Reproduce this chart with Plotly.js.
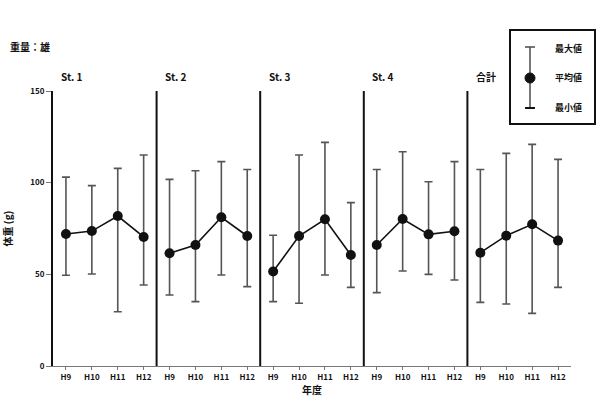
<!DOCTYPE html>
<html>
<head>
<meta charset="utf-8">
<script src="https://cdn.plot.ly/plotly-3.0.1.min.js"></script>
<style>html,body{margin:0;padding:0;background:#fff;}#chart{width:602px;height:406px;}</style>
</head>
<body>
<div id="chart"></div>
<script>
// Data
const groups = ["St. 1", "St. 2", "St. 3", "St. 4", "合計"];
const years = ["H9", "H10", "H11", "H12"];
const meanVals = [72, 73.6, 81.8, 70.4,  61.5, 66, 81.1, 70.9,  51.5, 70.9, 80, 60.5,  66, 80.2, 71.8, 73.5,  61.8, 71.1, 77.3, 68.4];
const maxVals  = [103, 98.4, 107.8, 115.1,  101.8, 106.5, 111.5, 107.2,  71.3, 115.1, 122, 89.1,  107.2, 116.9, 100.5, 111.5,  107.2, 116, 120.9, 112.7];
const minVals  = [49.5, 50.2, 29.6, 44.2,  38.7, 35.1, 49.6, 43.3,  35.1, 34.2, 49.6, 42.9,  40, 51.8, 50, 46.9,  34.7, 33.8, 28.7, 42.9];
const yTicks = [0, 50, 100, 150];
const legendLabels = ["最大値", "平均値", "最小値"];
const topLabel = "重量：雄";
const yTitle = "体重 (g)";
const xTitle = "年度";

const F = "'Noto Sans CJK JP', 'Noto Sans', sans-serif";
const W = 602, H = 406;
const M = {l: 53, r: 31, t: 91, b: 40};
const pw = W - M.l - M.r, ph = H - M.t - M.b;
const px = x => (x - M.l) / pw;
const py = y => (H - M.b - y) / ph;

const traces = [];
const tickvals = [], ticktext = [];
groups.forEach((g, gi) => {
  const xs = [], ys = [], up = [], dn = [];
  years.forEach((yr, yi) => {
    const i = gi * years.length + yi;
    xs.push(i); ys.push(meanVals[i]);
    up.push(maxVals[i] - meanVals[i]);
    dn.push(meanVals[i] - minVals[i]);
    tickvals.push(i); ticktext.push('<b>' + yr + '</b>');
  });
  traces.push({
    type: 'scatter', mode: 'lines+markers', x: xs, y: ys, name: g,
    line: {color: '#111', width: 1.6},
    marker: {color: '#111', size: 10},
    error_y: {type: 'data', symmetric: false, array: up, arrayminus: dn,
              color: '#555', thickness: 1.6, width: 4},
    showlegend: false, hoverinfo: 'skip'
  });
});

const shapes = [];
const annotations = [];
groups.forEach((g, gi) => {
  const xsep = gi * years.length - 0.5;
  if (gi > 0) {
    shapes.push({type: 'line', xref: 'x', yref: 'y', x0: xsep, x1: xsep, y0: 0, y1: 150,
                 line: {color: '#111', width: 2}});
  }
  annotations.push({xref: 'x', yref: 'paper', x: xsep + 0.25, y: py(77), text: '<b>' + g + '</b>',
                    showarrow: false, xanchor: 'left', yanchor: 'middle',
                    font: {family: F, size: 10, color: '#111'}});
});

// legend box
shapes.push({type: 'rect', xref: 'paper', yref: 'paper', x0: px(510), x1: px(595), y0: py(124), y1: py(30),
             line: {color: '#111', width: 2}, fillcolor: 'rgba(0,0,0,0)'});
shapes.push({type: 'line', xref: 'paper', yref: 'paper', x0: px(530), x1: px(530), y0: py(108), y1: py(47),
             line: {color: '#555', width: 1.6}});
shapes.push({type: 'line', xref: 'paper', yref: 'paper', x0: px(525), x1: px(535), y0: py(47), y1: py(47),
             line: {color: '#555', width: 1.6}});
shapes.push({type: 'line', xref: 'paper', yref: 'paper', x0: px(525), x1: px(535), y0: py(108), y1: py(108),
             line: {color: '#111', width: 2}});
shapes.push({type: 'circle', xref: 'paper', yref: 'paper', x0: px(525), x1: px(535), y0: py(83), y1: py(73),
             line: {color: '#111', width: 1}, fillcolor: '#111'});
[48, 78, 107].forEach((yy, i) => {
  annotations.push({xref: 'paper', yref: 'paper', x: px(553), y: py(yy), text: '<b>' + legendLabels[i] + '</b>',
                    showarrow: false, xanchor: 'left', yanchor: 'middle',
                    font: {family: F, size: 9, color: '#111'}});
});
annotations.push({xref: 'paper', yref: 'paper', x: px(8), y: py(46), text: '<b>' + topLabel + '</b>',
                  showarrow: false, xanchor: 'left', yanchor: 'middle',
                  font: {family: F, size: 10, color: '#111'}});

const layout = {
  width: W, height: H,
  margin: M,
  paper_bgcolor: '#fff', plot_bgcolor: '#fff',
  showlegend: false,
  xaxis: {
    range: [-0.5, 19.5], tickvals: tickvals, ticktext: ticktext,
    showgrid: false, zeroline: false, showline: true, linecolor: '#777', linewidth: 1,
    ticks: 'outside', ticklen: 3, tickcolor: '#777',
    tickfont: {family: F, size: 8, color: '#111'},
    title: {text: '<b>' + xTitle + '</b>', font: {family: F, size: 10, color: '#111'}, standoff: 4}
  },
  yaxis: {
    range: [0, 150], tickvals: yTicks, ticktext: yTicks.map(v => '<b>' + v + '</b>'),
    showgrid: false, zeroline: false, showline: true, linecolor: '#111', linewidth: 2,
    ticks: 'outside', ticklen: 5, tickcolor: '#777',
    tickfont: {family: F, size: 8, color: '#111'},
    title: {text: '<b>' + yTitle + '</b>', font: {family: F, size: 10, color: '#111'}, standoff: 16}
  },
  shapes: shapes,
  annotations: annotations
};

Plotly.newPlot('chart', traces, layout, {displayModeBar: false, staticPlot: true});
</script>
</body>
</html>
